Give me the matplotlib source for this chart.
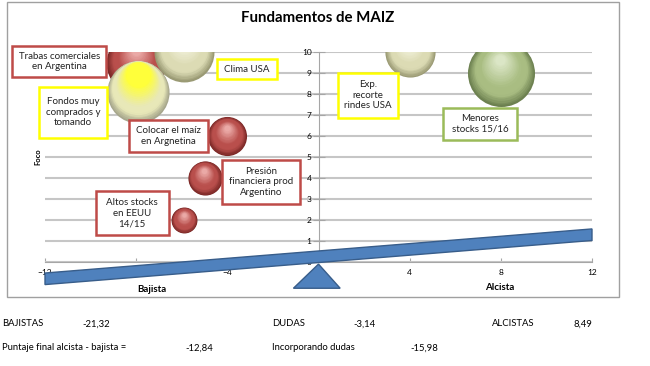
import numpy as np
import matplotlib.pyplot as plt
from matplotlib.patches import Polygon, Rectangle
from matplotlib.transforms import offset_copy
from matplotlib.colors import to_rgb

plt.rcParams['font.family'] = ['Lato', 'DejaVu Sans']

# datos de las burbujas (x = bajista/alcista, y = foco, tamaño)
etiquetas = ['Trabas comerciales\nen Argentina', 'Clima USA', 'Fondos muy\ncomprados y\ntomando',
             'Colocar el maíz\nen Argnetina', 'Presión\nfinanciera prod\nArgentino',
             'Altos stocks\nen EEUU\n14/15', 'Exp.\nrecorte\nrindes USA', 'Menores\nstocks 15/16']
pos_x = [-8.0, -5.9, -7.9, -4.0, -5.0, -5.9, 4.0, 8.0]
pos_y = [9.5, 10.0, 8.1, 6.0, 4.0, 2.0, 10.0, 9.0]
tamanos = [8.0, 8.0, 8.6, 3.4, 2.6, 1.5, 5.6, 10.0]
tipos = ['rojo', 'crema', 'amarillo', 'rojo', 'rojo', 'rojo', 'crema', 'verde']
tipo_caja = ['rojo', 'amarillo', 'amarillo', 'rojo', 'rojo', 'rojo', 'amarillo', 'verde']

# balanza
balanza_x = [-12, 12]
balanza_y = [-0.8, 1.3]

# resumen
resumen_fila1 = [('BAJISTAS', '-21,32'), ('DUDAS', '-3,14'), ('ALCISTAS', '8,49')]
resumen_fila2 = [('Puntaje final alcista - bajista =', '-12,84'), ('Incorporando dudas', '-15,98')]

# posiciones de las cajas de texto (centro x, centro y, ancho, alto) en unidades del grafico
cajas = [(-11.38, 9.55, 4.12, 1.48), (-3.14, 9.19, 2.63, 0.95), (-10.77, 7.14, 2.98, 2.43),
         (-6.60, 6.0, 3.46, 1.48), (-2.52, 3.81, 3.46, 2.05), (-8.18, 2.33, 3.20, 2.10),
         (2.17, 7.95, 2.63, 2.14), (7.08, 6.57, 3.25, 1.52)]

# (borde oscuro, color base, brillo)
colores_esfera = {
    'rojo': ('#7a2826', '#b94f4c', '#eaa9a6'),
    'crema': ('#9a9a74', '#dcdbb4', '#f8f8e6'),
    'amarillo': ('#a6a68c', '#e8e8b8', '#ffff3a'),
    'verde': ('#6d8150', '#a9bd82', '#dbe6c6'),
}
colores_borde = {'rojo': '#be4b48', 'amarillo': '#ffff00', 'verde': '#9bbb59'}

fig = plt.figure(figsize=(6.5, 3.66), dpi=100)
ax = fig.add_axes([45/650, 1-262/366, 547/650, 210/366])


def mezcla(c1, c2, f):
    a = np.array(to_rgb(c1)); b = np.array(to_rgb(c2))
    return tuple(a + (b - a) * f)


def esfera(x, y, d, tipo, z):
    oscuro, base, claro = colores_esfera[tipo]
    n = 22
    amarillo = tipo == 'amarillo'
    sube = 0.28 if amarillo else 0.2
    encoge = 0.6 if amarillo else 0.85
    for k in range(n):
        f = k / (n - 1)
        dd = d * (1 - encoge * f)
        off = d * sube * f
        if f < 0.25:
            col = mezcla(oscuro, base, f / 0.25)
        elif f < 0.45:
            col = to_rgb(base)
        else:
            col = mezcla(base, claro, (f - 0.45) / 0.55)
        tr = offset_copy(ax.transData, fig=fig, x=-0.05 * off, y=off, units='dots')
        ax.scatter([x], [y], s=(dd * 0.72) ** 2, color=[col], transform=tr,
                   zorder=z, linewidths=0)


for i in range(len(pos_x)):
    d = 67 * np.sqrt(tamanos[i] / max(tamanos))
    esfera(pos_x[i], pos_y[i], d, tipos[i], 3 + i * 0.01)

for i, (cx, cy, w, h) in enumerate(cajas):
    ax.add_patch(Rectangle((cx - w/2, cy - h/2), w, h, facecolor='white',
                           edgecolor=colores_borde[tipo_caja[i]], lw=1.8,
                           zorder=4, clip_on=False))
    ax.text(cx, cy, etiquetas[i], ha='center', va='center', fontsize=7,
            color='#222222', zorder=5, linespacing=1.25)

# balanza
h = 0.55
bx = [balanza_x[0], balanza_x[1], balanza_x[1], balanza_x[0]]
by = [balanza_y[0] - h/2, balanza_y[1] - h/2, balanza_y[1] + h/2, balanza_y[0] + h/2]
ax.add_patch(Polygon(list(zip(bx, by)), closed=True, facecolor='#4f81bd',
                     edgecolor='#385d8a', lw=1, zorder=6, clip_on=False))
ax.add_patch(Polygon([(0, -0.1), (-1.1, -1.25), (0.95, -1.25)], closed=True,
                     facecolor='#4f81bd', edgecolor='#385d8a', lw=1, zorder=6, clip_on=False))

ax.set_xlim(-12, 12)
ax.set_ylim(0, 10)
ax.set_xticks(range(-12, 13, 4))
ax.set_yticks(range(0, 11))
ax.spines['left'].set_position(('data', 0))
ax.spines['left'].set_color('#a6a6a6')
ax.spines['bottom'].set_color('#a6a6a6')
ax.spines['right'].set_visible(False)
ax.spines['top'].set_visible(False)
ax.tick_params(axis='y', direction='inout', length=8, color='#a6a6a6', labelsize=6, pad=1)
ax.tick_params(axis='x', direction='in', length=3, color='#a6a6a6', labelsize=6, pad=5)
ax.yaxis.grid(True, color='#c6c6c6', lw=1.5)
ax.set_axisbelow(True)
ax.patch.set_alpha(0)

fig.text(318/650, 1-18/366, 'Fundamentos de MAIZ', ha='center', va='center',
         fontsize=10.8, fontweight='bold')
fig.text(38/650, 1-157/366, 'Foco', rotation=90, ha='center', va='center',
         fontsize=5.5, fontweight='bold')
fig.text(152/650, 1-289/366, 'Bajista', ha='center', va='center', fontsize=7, fontweight='bold')
fig.text(500/650, 1-288/366, 'Alcista', ha='center', va='center', fontsize=7, fontweight='bold')

fig.patches.append(Rectangle((7/650, 1-297/366), 612/650, 295/366, transform=fig.transFigure,
                             fill=False, edgecolor='#a0a0a0', lw=1))

xs1 = [(2, 82), (272, 353), (492, 574)]
for (t, v), (a, b) in zip(resumen_fila1, xs1):
    fig.text(a/650, 1-324/366, t, fontsize=6.8, va='center')
    fig.text(b/650, 1-324/366, v, fontsize=6.8, va='center')
xs2 = [(2, 185), (272, 410)]
for (t, v), (a, b) in zip(resumen_fila2, xs2):
    fig.text(a/650, 1-348/366, t, fontsize=6.8, va='center')
    fig.text(b/650, 1-348/366, v, fontsize=6.8, va='center')

fig.savefig('out.png', dpi=100)
